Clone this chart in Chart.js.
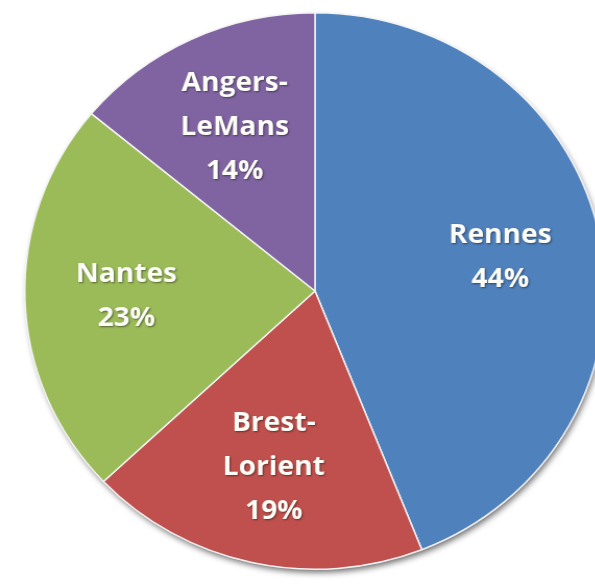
<!DOCTYPE html>
<html>
<head>
<meta charset="utf-8">
<script src="https://cdn.jsdelivr.net/npm/chart.js@4/dist/chart.umd.min.js"></script>
<style>
  body { margin: 0; background: #fff; }
  #box {
    position: absolute; left: 0; top: 0;
    width: 595px; height: 586px;
    /* the reference pie is a bit wider than tall */
    transform: scaleX(1.043);
    transform-origin: 315px 291px;
  }
</style>
</head>
<body>
<div id="box"><canvas id="pie"></canvas></div>
<script>
// parts de chaque zone (en %)
var regions = ['Rennes', 'Brest-Lorient', 'Nantes', 'Angers-LeMans'];
var parts = [44, 19, 23, 14];
// texte affiché dans chaque part
var labelLines = [['Rennes'], ['Brest-', 'Lorient'], ['Nantes'], ['Angers-', 'LeMans']];
var colors = ['#4F81BD', '#C0504D', '#9BBB59', '#8064A2'];

// ombre sous le camembert
var pieShadow = {
  id: 'pieShadow',
  beforeDatasetsDraw: function(chart) {
    var arc = chart.getDatasetMeta(0).data[0];
    if (!arc) return;
    var ctx = chart.ctx;
    ctx.save();
    ctx.shadowColor = 'rgba(0,0,0,0.6)';
    ctx.shadowBlur = 6;
    ctx.shadowOffsetX = 2;
    ctx.shadowOffsetY = 4;
    ctx.fillStyle = '#444';
    ctx.beginPath();
    ctx.arc(arc.x, arc.y, arc.outerRadius - 1, 0, Math.PI * 2);
    ctx.fill();
    ctx.restore();
  }
};

// étiquettes dans les parts : nom + pourcentage
var sliceLabels = {
  id: 'sliceLabels',
  afterDatasetsDraw: function(chart) {
    var ctx = chart.ctx;
    var arcs = chart.getDatasetMeta(0).data;
    ctx.save();
    ctx.font = 'bold 27px "Open Sans", sans-serif';
    ctx.textAlign = 'center';
    ctx.textBaseline = 'middle';
    ctx.fillStyle = '#fdfdf8';
    ctx.shadowColor = 'rgba(0,0,0,0.45)';
    ctx.shadowBlur = 2;
    ctx.shadowOffsetX = 1;
    ctx.shadowOffsetY = 1;
    for (var i = 0; i < arcs.length; i++) {
      var a = arcs[i];
      var mid = (a.startAngle + a.endAngle) / 2;
      var r = a.outerRadius * 0.65;
      var x = a.x + Math.cos(mid) * r;
      var y = a.y + Math.sin(mid) * r;
      var lines = labelLines[i].concat([parts[i] + '%']);
      var step = 44;
      var y0 = y - (lines.length - 1) * step / 2;
      for (var j = 0; j < lines.length; j++) {
        ctx.fillText(lines[j], x, y0 + j * step);
      }
    }
    ctx.restore();
  }
};

var myPieChart = new Chart(document.getElementById('pie'), {
  type: 'pie',
  data: {
    labels: regions,
    datasets: [{
      data: parts,
      backgroundColor: colors,
      borderColor: '#f4f4f4',
      borderWidth: 1.5
    }]
  },
  options: {
    responsive: true,
    maintainAspectRatio: false,
    animation: false,
    layout: { padding: { top: 12, bottom: 16, left: 36, right: 1 } },
    plugins: {
      legend: { display: false },
      tooltip: { enabled: false }
    }
  },
  plugins: [pieShadow, sliceLabels]
});
</script>
</body>
</html>
